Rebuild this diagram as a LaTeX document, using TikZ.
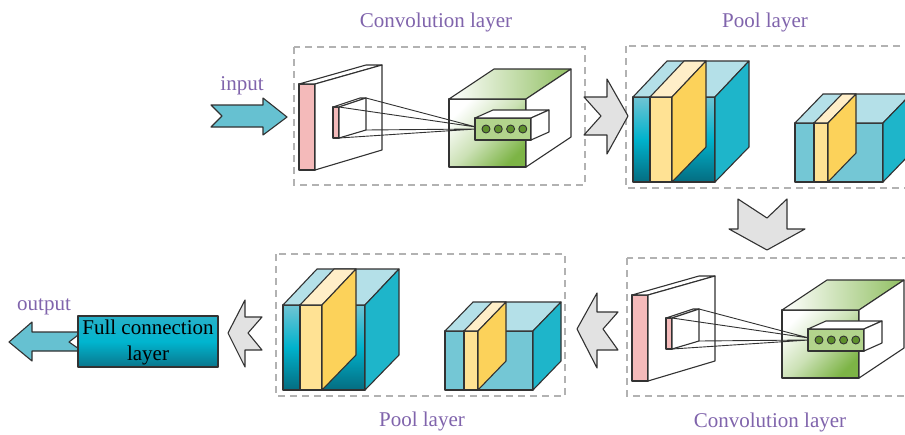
\documentclass[tikz,border=0pt]{standalone}
\usepackage{fontspec}
\setmainfont{Liberation Serif}
\definecolor{purplec}{RGB}{128,100,172}
\definecolor{linec}{RGB}{50,50,50}
\definecolor{dashc}{RGB}{178,178,178}
\definecolor{grayarrow}{RGB}{226,226,226}
\definecolor{tealarrow}{RGB}{102,193,209}
\definecolor{pinkc}{RGB}{244,186,186}
\definecolor{greenc}{RGB}{125,180,70}
\definecolor{kernelc}{RGB}{178,212,140}
\definecolor{dotc}{RGB}{95,145,45}
\definecolor{pta}{RGB}{112,196,212}
\definecolor{ptb}{RGB}{0,178,204}
\definecolor{ptc}{RGB}{5,108,128}
\definecolor{toptc}{RGB}{180,224,232}
\definecolor{sidetc}{RGB}{30,181,202}
\definecolor{smallfront}{RGB}{116,199,213}
\definecolor{yfront}{RGB}{255,226,148}
\definecolor{ytop}{RGB}{255,238,200}
\definecolor{yside}{RGB}{252,210,90}
\definecolor{fca}{RGB}{40,176,200}
\definecolor{fcb}{RGB}{0,181,207}
\definecolor{fcc}{RGB}{10,118,140}
\tikzset{
  edge/.style={draw=linec, line width=1.1pt, line join=round},
  dashbox/.style={draw=dashc, line width=1.2pt, dash pattern=on 7pt off 5pt},
  title/.style={text=purplec, font=\fontsize{21}{25}\selectfont, inner sep=0pt, anchor=base},
  grayarr/.style={edge, fill=grayarrow},
  tealarr/.style={edge, fill=tealarrow},
}
\newcommand\convblock{%
  \draw[dashbox] (294,47) rectangle (585,185);
  % slab
  \filldraw[edge, fill=pinkc] (299,84) rectangle (315,170);
  \filldraw[edge, fill=white] (299,84)--(366,65)--(382,65)--(315,84)--cycle;
  \filldraw[edge, fill=white] (315,84)--(382,65)--(382,150)--(315,170)--cycle;
  % receptive field
  \filldraw[edge, fill=pinkc] (333,107) rectangle (339,138);
  \filldraw[edge, fill=white] (333,107)--(360,98)--(366,98)--(339,107)--cycle;
  \filldraw[edge, fill=white] (339,107)--(366,98)--(366,130)--(339,138)--cycle;
  % cube
  \shadedraw[edge, top color=white, bottom color=greenc, middle color=white!60!greenc, shading angle=45] (449,99) rectangle (526,167);
  \shadedraw[edge, left color=white, right color=greenc!85] (449,99)--(494,69)--(571,69)--(526,99)--cycle;
  \filldraw[edge, fill=white] (526,99)--(571,69)--(571,137)--(526,167)--cycle;
  % projection lines
  \draw[edge, line width=0.9pt] (339,107)--(476,127) (366,98)--(476,127) (366,130)--(476,129) (339,138)--(476,129);
  % kernel
  \filldraw[edge, fill=kernelc] (475,118) rectangle (531,140);
  \filldraw[edge, fill=white] (475,118)--(493,110)--(549,110)--(531,118)--cycle;
  \filldraw[edge, fill=white] (531,118)--(549,110)--(549,132)--(531,140)--cycle;
  \foreach \cx in {486,498.3,510.6,522.8}{\filldraw[edge, fill=dotc, line width=0.9pt] (\cx,129) circle (4);}
}
\newcommand\poolblock{%
  \draw[dashbox] (626,46) rectangle (915,188);
  % big cube
  \shadedraw[edge, top color=pta, bottom color=ptc, middle color=ptb] (633,97) rectangle (715,182);
  \filldraw[edge, fill=toptc] (633,97)--(667,61)--(749,61)--(715,97)--cycle;
  \filldraw[edge, fill=sidetc] (715,97)--(749,61)--(749,147)--(715,182)--cycle;
  \filldraw[edge, fill=yfront] (650,97) rectangle (672,182);
  \filldraw[edge, fill=ytop] (650,97)--(684,61)--(706,61)--(672,97)--cycle;
  \filldraw[edge, fill=yside] (672,97)--(706,61)--(706,147)--(672,182)--cycle;
  % small cube
  \filldraw[edge, fill=smallfront] (795,123) rectangle (883,182);
  \filldraw[edge, fill=toptc] (795,123)--(823,94)--(911,94)--(883,123)--cycle;
  \filldraw[edge, fill=sidetc] (883,123)--(911,94)--(911,153)--(883,182)--cycle;
  \filldraw[edge, fill=yfront] (814,123) rectangle (828,182);
  \filldraw[edge, fill=ytop] (814,123)--(842,94)--(856,94)--(828,123)--cycle;
  \filldraw[edge, fill=yside] (828,123)--(856,94)--(856,153)--(828,182)--cycle;
}
\begin{document}
\begin{tikzpicture}[x=1pt, y=-1pt]
\useasboundingbox (0,0) rectangle (905,434);
\clip (0,0) rectangle (905,434);
\fill[white] (0,0) rectangle (905,434);

% blocks
\convblock
\poolblock
\begin{scope}[shift={(333,211)}]
  \convblock
\end{scope}
\begin{scope}[shift={(-350,208)}]
  \poolblock
\end{scope}

% gray arrows
\filldraw[grayarr] (584,97)--(607,97)--(607,79)--(628,116)--(607,154)--(607,135)--(584,135)--(601,116)--cycle;
\filldraw[grayarr] (738,199)--(767,218)--(787,199)--(787,229)--(805,229)--(767,250)--(729,229)--(738,229)--cycle;
\filldraw[grayarr] (618,312)--(603,329)--(618,350)--(597,350)--(597,368)--(577,329)--(597,293)--(597,312)--cycle;
\filldraw[grayarr] (262,317)--(248,333)--(262,350)--(245,350)--(245,367)--(228,333)--(245,300)--(245,317)--cycle;

% input arrow
\filldraw[tealarr] (211,105)--(263,105)--(263,98)--(287,117)--(263,135)--(263,127)--(211,127)--(222,116)--cycle;

% output arrow and full connection layer
\filldraw[tealarr] (82,332)--(32,332)--(32,322)--(9,342)--(32,361)--(32,351)--(82,351)--(69,342)--cycle;
\shadedraw[edge, top color=fca, bottom color=fcc, middle color=fcb] (78,316) rectangle (218,367);
\node[align=center, font=\fontsize{21}{26}\selectfont, inner sep=0pt, text=black] (fc) at (148,342) {Full connection\\layer};

% labels
\node[title] (t1) at (436,27) {Convolution layer};
\node[title] (t2) at (765,27) {Pool layer};
\node[title] (t3) at (242,90) {input};
\node[title] (t4) at (44,310) {output};
\node[title] (t5) at (422,426) {Pool layer};
\node[title] (t6) at (770,427) {Convolution layer};
\end{tikzpicture}
\end{document}
